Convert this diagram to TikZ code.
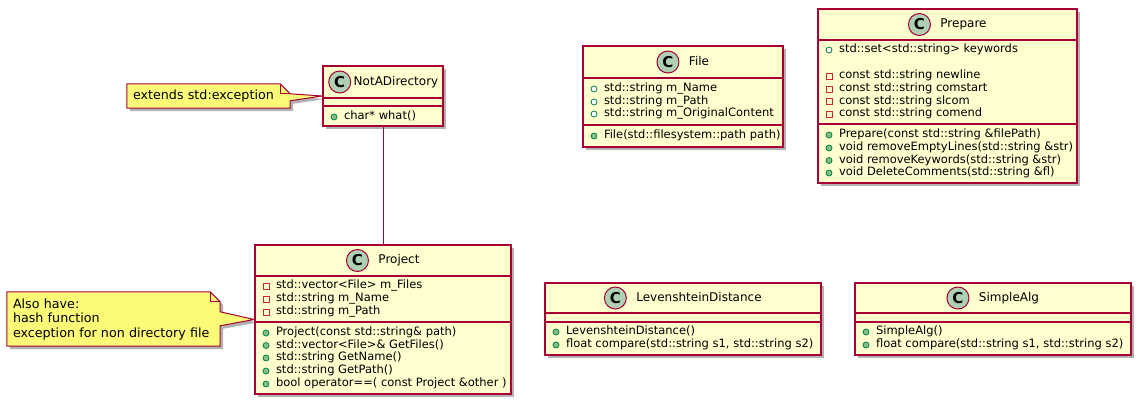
\documentclass[tikz,border=0pt]{standalone}
\usepackage{fontspec}
\setmainfont{DejaVu Sans}
\usepackage{xcolor}
\usepackage{tikz}
\usetikzlibrary{shapes, arrows.meta, positioning, calc, shadows, backgrounds}

\definecolor{umlred}{HTML}{A80036}
\definecolor{classbg}{HTML}{FEFECE}
\definecolor{notebg}{HTML}{FBFB77}
\definecolor{circbg}{HTML}{ADD1B2}
\definecolor{pubfill}{HTML}{84BE84}
\definecolor{publine}{HTML}{038048}
\definecolor{privline}{HTML}{C82930}

\begin{document}
\begin{tikzpicture}[x=1pt, y=-1pt,
    classbox/.style={rectangle, draw=umlred, fill=classbg, line width=1.5pt,
        drop shadow={shadow xshift=3pt, shadow yshift=-3pt, fill=black, opacity=0.3}},
    classname/.style={inner sep=0pt, outer sep=0pt, font=\fontsize{12}{14}\selectfont,
        text height=9pt, text depth=2.5pt},
    cicon/.style={circle, draw=umlred, fill=circbg, line width=1pt, minimum size=22pt,
        inner sep=0pt, outer sep=0pt, font=\fontsize{15}{15}\selectfont\bfseries},
    sep/.style={draw=umlred, line width=1.2pt},
    member/.style={anchor=west, inner sep=0pt, outer sep=0pt, font=\fontsize{11.5}{13}\selectfont,
        text height=8pt, text depth=2.5pt},
    icon/.style={minimum size=6pt, inner sep=0pt, outer sep=0pt, line width=0.8pt, xshift=-7pt},
    pubf/.style={member, label={[icon, circle, draw=publine, fill=white]left:{}}},
    pubm/.style={member, label={[icon, circle, draw=publine, fill=pubfill]left:{}}},
    privf/.style={member, label={[icon, rectangle, draw=privline]left:{}}},
    notebox/.style={inner xsep=6pt, inner ysep=0pt, align=left,
        font=\fontsize{12.7}{14.5}\selectfont},
    notefill/.style={draw=umlred, fill=notebg, line width=1pt,
        drop shadow={shadow xshift=3pt, shadow yshift=-3pt, fill=black, opacity=0.3}},
    notefold/.style={draw=umlred, line width=1pt},
    assoc/.style={draw=umlred, line width=1pt}
]
    \useasboundingbox (0,0) rectangle (1140,404);

    % NotADirectory
    \node[classbox, minimum width=120pt, minimum height=60pt] (notadir) at (383,96) {};
    \node[classname] (notadirT) at (396,82) {NotADirectory};
    \node[cicon, left=3pt of notadirT] (notadirC) {C};
    \draw[sep] (notadir.west |- 0,98) -- (notadir.east |- 0,98);
    \draw[sep] (notadir.west |- 0,106) -- (notadir.east |- 0,106);
    \node[pubm] (notadirM1) at (344,117) {char* what()};

    % Project
    \node[classbox, minimum width=256pt, minimum height=149pt] (project) at (383,319.5) {};
    \node[classname] (projectT) at (399,260.5) {Project};
    \node[cicon, left=10pt of projectT] (projectC) {C};
    \draw[sep] (project.west |- 0,276) -- (project.east |- 0,276);
    \draw[sep] (project.west |- 0,322) -- (project.east |- 0,322);
    \node[privf] (projectA1) at (276,286) {std::vector<File> m\_Files};
    \node[privf] (projectA2) at (276,299) {std::string m\_Name};
    \node[privf] (projectA3) at (276,312) {std::string m\_Path};
    \node[pubm] (projectM1) at (276,333) {Project(const std::string\& path)};
    \node[pubm] (projectM2) at (276,345.5) {std::vector<File>\& GetFiles()};
    \node[pubm] (projectM3) at (276,358) {std::string GetName()};
    \node[pubm] (projectM4) at (276,371) {std::string GetPath()};
    \node[pubm] (projectM5) at (276,384) {bool operator==( const Project \&other )};

    % File
    \node[classbox, minimum width=200pt, minimum height=101pt] (file) at (683,96.5) {};
    \node[classname] (fileT) at (699,62) {File};
    \node[cicon, left=10pt of fileT] (fileC) {C};
    \draw[sep] (file.west |- 0,78) -- (file.east |- 0,78);
    \draw[sep] (file.west |- 0,125) -- (file.east |- 0,125);
    \node[pubf] (fileA1) at (604,89) {std::string m\_Name};
    \node[pubf] (fileA2) at (604,102) {std::string m\_Path};
    \node[pubf] (fileA3) at (604,114) {std::string m\_OriginalContent};
    \node[pubm] (fileM1) at (604,136) {File(std::filesystem::path path)};

    % Prepare
    \node[classbox, minimum width=259pt, minimum height=174pt] (prepare) at (947.5,96) {};
    \node[classname] (prepareT) at (963.5,24.5) {Prepare};
    \node[cicon, left=10pt of prepareT] (prepareC) {C};
    \draw[sep] (prepare.west |- 0,40) -- (prepare.east |- 0,40);
    \draw[sep] (prepare.west |- 0,124) -- (prepare.east |- 0,124);
    \node[pubf] (prepareA1) at (839,50) {std::set<std::string> keywords};
    \node[privf] (prepareA2) at (839,76) {const std::string newline};
    \node[privf] (prepareA3) at (839,89) {const std::string comstart};
    \node[privf] (prepareA4) at (839,101.5) {const std::string slcom};
    \node[privf] (prepareA5) at (839,114) {const std::string comend};
    \node[pubm] (prepareM1) at (839,135) {Prepare(const std::string \&filePath)};
    \node[pubm] (prepareM2) at (839,148) {void removeEmptyLines(std::string \&str)};
    \node[pubm] (prepareM3) at (839,160.5) {void removeKeywords(std::string \&str)};
    \node[pubm] (prepareM4) at (839,173) {void DeleteComments(std::string \&fl)};

    % LevenshteinDistance
    \node[classbox, minimum width=276pt, minimum height=72pt] (leven) at (683,319) {};
    \node[classname] (levenT) at (699,298) {LevenshteinDistance};
    \node[cicon, left=10pt of levenT] (levenC) {C};
    \draw[sep] (leven.west |- 0,313) -- (leven.east |- 0,313);
    \draw[sep] (leven.west |- 0,322) -- (leven.east |- 0,322);
    \node[pubm] (levenM1) at (566,332) {LevenshteinDistance()};
    \node[pubm] (levenM2) at (566,345) {float compare(std::string s1, std::string s2)};

    % SimpleAlg
    \node[classbox, minimum width=276pt, minimum height=72pt] (simple) at (993,319) {};
    \node[classname] (simpleT) at (1009,298) {SimpleAlg};
    \node[cicon, left=10pt of simpleT] (simpleC) {C};
    \draw[sep] (simple.west |- 0,313) -- (simple.east |- 0,313);
    \draw[sep] (simple.west |- 0,322) -- (simple.east |- 0,322);
    \node[pubm] (simpleM1) at (876,332) {SimpleAlg()};
    \node[pubm] (simpleM2) at (876,345) {float compare(std::string s1, std::string s2)};

    % Notes
    \node[notebox, minimum width=163pt, minimum height=24pt, text width=151pt] (notadirN) at (208.5,96) {extends std:exception};
    \node[notebox, minimum width=213pt, minimum height=54pt, text width=201pt] (projectN) at (113.5,319) {Also have:\\hash function\\exception for non directory file};
    \begin{scope}[on background layer]
        \path[notefill] (notadirN.north west) -- ([xshift=-10pt]notadirN.north east)
            -- ([yshift=-10pt]notadirN.north east) -- (notadir.west)
            -- ([yshift=-17pt]notadirN.north east) -- (notadirN.south east)
            -- (notadirN.south west) -- cycle;
        \draw[notefold] ([xshift=-10pt]notadirN.north east) -- ++(0,10) -- ++(10,0);
        \path[notefill] (projectN.north west) -- ([xshift=-10pt]projectN.north east)
            -- ([yshift=-10pt]projectN.north east) -- ([yshift=-20pt]projectN.north east)
            -- (project.west) -- ([yshift=-34pt]projectN.north east)
            -- (projectN.south east) -- (projectN.south west) -- cycle;
        \draw[notefold] ([xshift=-10pt]projectN.north east) -- ++(0,10) -- ++(10,0);
    \end{scope}

    % Arrows
    \draw[assoc] (notadir) -- (project);

\end{tikzpicture}
\end{document}
